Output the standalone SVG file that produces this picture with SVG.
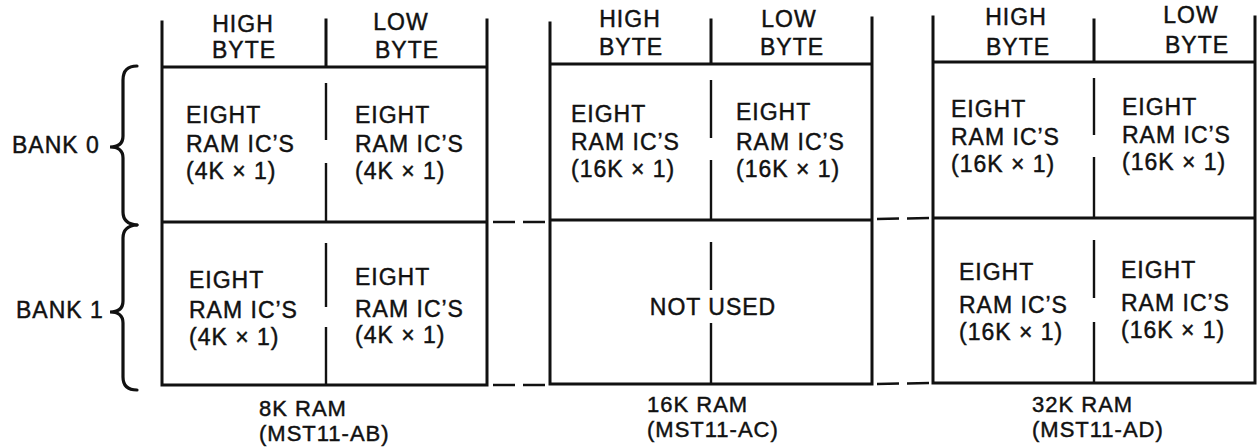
<svg xmlns="http://www.w3.org/2000/svg" width="1257" height="448" viewBox="0 0 1257 448">
<style>
  text { font-family: "Liberation Sans", Arial, sans-serif; font-size: 23px; fill: #111; stroke: #111; stroke-width: 0.45; letter-spacing: 1px; }
  .c { text-anchor: middle; }
  .lbl { font-size: 22px; }
  .frame { stroke: #111; stroke-width: 3; fill: none; stroke-linecap: square; }
  .div { stroke: #111; stroke-width: 2.4; fill: none; }
  .dash { stroke: #111; stroke-width: 2.5; fill: none; stroke-dasharray: 22 8; }
  .brace { stroke: #111; stroke-width: 3.2; fill: none; stroke-linecap: round; }
</style>
<rect width="1257" height="448" fill="#fff"/>

<g id="bank-labels">
  <text x="12" y="153">BANK 0</text>
  <path class="brace" d="M137,66 Q123,66 123,80 L123,136 Q123,147 110,147 Q123,147 123,158 L123,212 Q123,224 137,225"/>
  <text x="16" y="318">BANK 1</text>
  <path class="brace" d="M137,225 Q123,226 123,238 L123,301 Q123,312 110,312 Q123,312 123,323 L123,377 Q123,390 137,390"/>
</g>

<g id="ram-8k">
  <path class="frame" d="M162,22 L162,385 L487,385 L487,20 M162,67 L487,67 M162,222 L487,222 M326,20 L326,67"/>
  <path class="div" d="M326,83 L326,140 M326,163 L326,222 M326,243 L326,307 M326,327 L326,385"/>
  <text class="c" x="243" y="32">HIGH</text>
  <text class="c" x="244" y="58">BYTE</text>
  <text class="c" x="401" y="30">LOW</text>
  <text class="c" x="407" y="58">BYTE</text>
  <text x="186" y="123">EIGHT</text>
  <text x="186" y="152">RAM IC’S</text>
  <text x="186" y="179">(4K × 1)</text>
  <text x="355" y="123">EIGHT</text>
  <text x="355" y="152">RAM IC’S</text>
  <text x="355" y="179">(4K × 1)</text>
  <text x="189" y="288">EIGHT</text>
  <text x="189" y="318">RAM IC’S</text>
  <text x="189" y="345">(4K × 1)</text>
  <text x="355" y="285">EIGHT</text>
  <text x="355" y="317">RAM IC’S</text>
  <text x="355" y="343">(4K × 1)</text>
  <text class="lbl" x="259" y="416">8K RAM</text>
  <text class="lbl" x="259" y="441">(MST11-AB)</text>
</g>

<g id="ram-16k">
  <path class="frame" d="M550,23 L550,384 L872,384 L872,18 M550,64 L872,64 M550,220 L872,220 M711,20 L711,64"/>
  <path class="div" d="M711,80 L711,138 M711,160 L711,220 M711,242 L711,290 M711,323 L711,384"/>
  <text class="c" x="630" y="27">HIGH</text>
  <text class="c" x="631" y="55">BYTE</text>
  <text class="c" x="789" y="27">LOW</text>
  <text class="c" x="792" y="55">BYTE</text>
  <text x="571" y="122">EIGHT</text>
  <text x="571" y="150">RAM IC’S</text>
  <text x="571" y="177">(16K × 1)</text>
  <text x="736" y="120">EIGHT</text>
  <text x="736" y="150">RAM IC’S</text>
  <text x="736" y="177">(16K × 1)</text>
  <text class="c" x="713" y="315">NOT USED</text>
  <text class="lbl" x="647" y="412">16K RAM</text>
  <text class="lbl" x="647" y="437">(MST11-AC)</text>
</g>

<g id="ram-32k">
  <path class="frame" d="M933,17 L933,383 L1255,383 L1255,17 M933,62 L1255,62 M933,218 L1255,218 M1094,20 L1094,62"/>
  <path class="div" d="M1094,78 L1094,135 M1094,157 L1094,218 M1094,240 L1094,298 M1094,322 L1094,383"/>
  <text class="c" x="1016" y="25">HIGH</text>
  <text class="c" x="1018" y="55">BYTE</text>
  <text class="c" x="1191" y="23">LOW</text>
  <text class="c" x="1197" y="53">BYTE</text>
  <text x="951" y="117">EIGHT</text>
  <text x="951" y="145">RAM IC’S</text>
  <text x="951" y="172">(16K × 1)</text>
  <text x="1122" y="115">EIGHT</text>
  <text x="1122" y="143">RAM IC’S</text>
  <text x="1122" y="170">(16K × 1)</text>
  <text x="959" y="280">EIGHT</text>
  <text x="959" y="313">RAM IC’S</text>
  <text x="959" y="340">(16K × 1)</text>
  <text x="1121" y="278">EIGHT</text>
  <text x="1121" y="311">RAM IC’S</text>
  <text x="1121" y="338">(16K × 1)</text>
  <text class="lbl" x="1032" y="412">32K RAM</text>
  <text class="lbl" x="1032" y="437">(MST11-AD)</text>
</g>

<g id="connectors">
  <line class="dash" x1="493" y1="222" x2="549" y2="222"/>
  <line class="dash" x1="493" y1="385" x2="549" y2="385"/>
  <line class="dash" x1="877" y1="219" x2="932" y2="218"/>
  <line class="dash" x1="877" y1="384" x2="932" y2="383"/>
</g>
</svg>
